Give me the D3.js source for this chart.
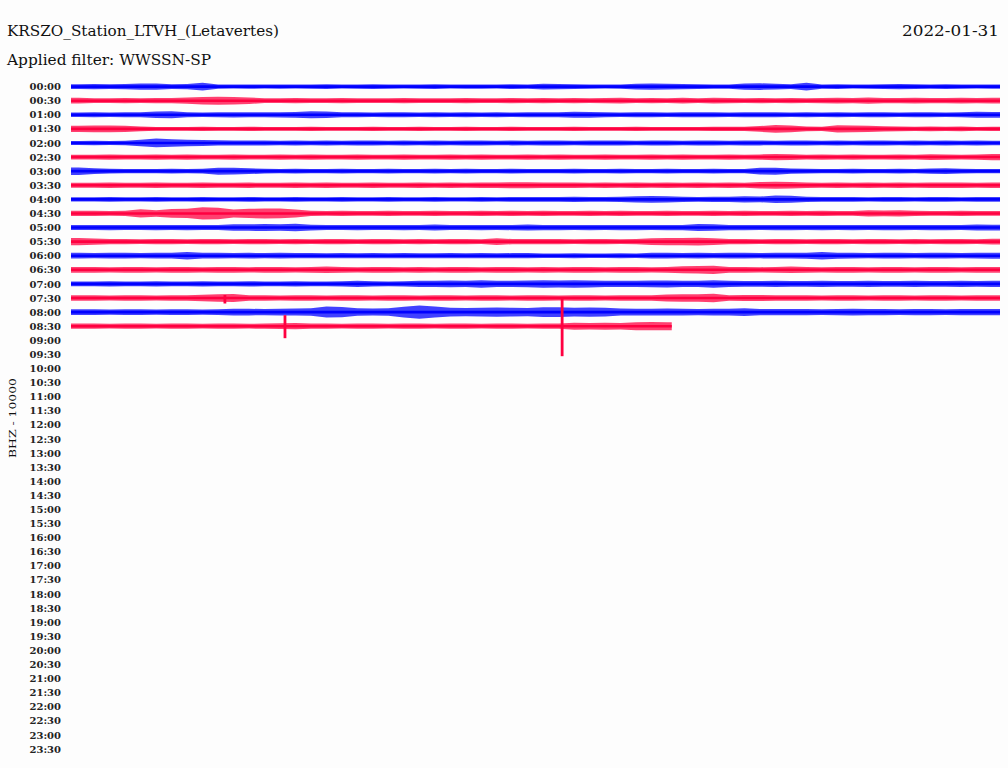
<!DOCTYPE html>
<html>
<head>
<meta charset="utf-8">
<script src="https://cdn.jsdelivr.net/npm/d3@7"></script>
<style>
  body { margin: 0; background: #fdfdfd; }
  svg { display: block; }
</style>
</head>
<body>
<div id="chart"></div>
<script>
// helicorder rows, one every 30 minutes
const hourLabels = [
  "00:00","00:30","01:00","01:30","02:00","02:30","03:00","03:30","04:00","04:30",
  "05:00","05:30","06:00","06:30","07:00","07:30","08:00","08:30","09:00","09:30",
  "10:00","10:30","11:00","11:30","12:00","12:30","13:00","13:30","14:00","14:30",
  "15:00","15:30","16:00","16:30","17:00","17:30","18:00","18:30","19:00","19:30",
  "20:00","20:30","21:00","21:30","22:00","22:30","23:00","23:30"
];

// minutes of data recorded in each row (only rows up to 08:30 have data)
const rowEndMinutes = [30,30,30,30,30,30,30,30,30,30,30,30,30,30,30,30,30,19.4];

// envelope half-amplitude of each row, one value every 30 s
const envelopes = [
  [2.2,2.4,2.2,2.4,2.8,2.8,2.2,2.4,3.6,2.0,1.8,2.0,1.8,2.0,1.8,2.0,2.2,1.8,2.0,2.2,2.0,1.8,2.0,2.2,1.8,2.0,2.0,1.8,2.2,2.0,2.6,2.4,2.2,2.0,1.8,2.0,2.6,2.8,2.6,2.4,2.2,2.0,2.0,2.8,3.0,2.6,2.2,3.6,2.0,2.2,1.8,2.0,2.2,2.4,2.2,2.0,2.2,2.0,1.8,2.0],
  [2.6,2.2,2.2,2.4,2.2,2.4,2.4,2.8,3.4,3.6,3.4,3.0,2.2,2.2,2.4,2.2,2.2,2.4,2.2,2.2,2.2,2.4,2.2,2.2,2.2,2.4,2.2,2.2,2.4,2.2,2.4,2.2,2.4,2.2,2.4,2.6,2.2,2.4,2.2,2.6,2.2,2.6,2.4,2.2,2.4,2.2,2.4,2.2,2.4,2.6,2.4,2.8,2.4,2.4,2.6,2.4,2.4,2.6,2.4,2.6],
  [2.0,2.2,2.0,2.2,2.2,3.0,3.2,2.2,2.0,2.2,2.4,2.2,2.2,2.4,2.6,3.2,3.0,2.2,2.2,2.0,2.2,2.2,2.0,2.2,2.0,2.2,2.0,2.2,2.0,2.2,2.2,2.2,2.8,2.6,2.2,2.0,2.2,2.2,2.0,2.2,2.2,2.2,2.0,2.2,2.2,2.2,2.0,2.2,2.0,2.2,2.0,2.2,2.2,2.0,2.2,2.2,2.0,2.2,2.8,2.6],
  [2.8,3.0,3.0,2.8,2.2,1.8,1.8,1.8,2.0,1.8,1.8,2.0,1.8,1.8,1.8,2.0,1.8,1.8,1.8,2.0,1.8,1.8,2.0,1.8,1.8,2.0,1.8,1.8,2.0,1.8,1.8,1.8,2.0,1.8,1.8,1.8,2.0,1.8,1.8,1.8,1.8,2.0,2.0,2.0,2.6,3.6,3.0,2.2,2.0,3.2,3.0,2.8,2.4,2.2,2.0,2.2,2.0,2.2,1.8,2.0],
  [1.8,2.0,1.8,2.0,3.0,4.0,3.4,3.0,2.8,2.4,2.2,2.2,2.2,2.0,2.2,2.0,2.2,2.0,2.2,2.2,2.0,2.2,2.0,2.2,2.0,2.2,2.2,2.0,2.2,2.0,2.2,2.2,2.0,2.2,2.2,2.2,2.0,2.2,2.2,2.0,2.2,2.2,2.0,2.2,2.2,2.0,2.2,2.2,2.0,2.2,2.0,2.2,2.2,2.0,2.2,2.0,2.2,2.0,2.2,2.0],
  [2.2,2.2,2.4,2.2,2.2,2.4,2.2,2.4,2.2,2.2,2.4,2.2,2.2,2.4,2.2,2.4,2.2,2.2,2.4,2.2,2.2,2.4,2.2,2.2,2.4,2.2,2.4,2.2,2.2,2.4,2.2,2.4,2.2,2.2,2.4,2.2,2.2,2.4,2.2,2.4,2.2,2.2,2.4,2.2,2.4,2.8,2.6,2.2,2.4,2.2,2.4,2.2,2.2,2.4,2.2,2.6,2.4,2.2,2.4,2.8],
  [3.4,2.6,2.2,2.0,2.0,2.0,2.2,2.0,2.2,3.2,3.0,2.6,2.2,2.0,2.2,2.0,2.0,2.2,2.0,2.0,2.2,2.0,2.0,2.2,2.0,2.2,2.0,2.0,2.2,2.0,2.0,2.0,2.2,2.0,2.0,2.2,2.0,2.0,2.2,2.0,2.0,2.2,2.0,2.0,3.0,3.2,2.4,2.2,2.0,2.0,2.2,2.0,2.0,2.2,2.0,2.4,2.6,2.2,2.0,2.0],
  [2.2,2.2,2.4,2.2,2.2,2.4,2.2,2.2,2.4,2.2,2.2,2.4,2.2,2.2,2.4,2.2,2.4,2.2,2.2,2.4,2.2,2.2,2.4,2.2,2.4,2.2,2.4,2.6,2.8,2.8,2.6,2.4,2.4,2.2,2.4,2.2,2.4,2.2,2.4,2.2,2.4,2.2,2.4,2.2,3.0,3.2,3.0,2.4,2.2,2.4,2.2,2.4,2.2,2.4,2.2,2.6,2.6,2.4,2.2,2.4],
  [2.0,2.0,2.2,2.0,2.0,2.2,2.0,2.0,2.2,2.0,2.0,2.2,2.0,2.0,2.2,2.0,2.0,2.2,2.0,2.0,2.2,2.0,2.0,2.2,2.0,2.0,2.2,2.0,2.2,2.2,2.2,2.2,2.4,2.2,2.2,2.4,2.8,3.0,2.8,2.4,2.2,2.4,2.4,2.8,2.6,3.4,3.2,2.4,2.2,2.2,2.2,2.0,2.2,2.2,2.0,2.2,2.2,2.0,2.2,2.2],
  [2.4,2.4,2.2,2.4,3.8,3.0,4.0,4.2,5.6,5.2,3.6,4.2,4.6,4.4,3.6,2.4,2.2,2.4,2.2,2.2,2.4,2.2,2.2,2.4,2.2,2.2,2.4,2.2,2.4,2.2,2.4,2.2,2.2,2.4,2.2,2.4,2.2,2.2,2.4,2.2,2.2,2.4,2.2,2.4,2.2,2.2,2.4,2.2,2.4,2.2,2.2,2.8,2.6,2.8,2.4,2.2,2.2,2.4,2.2,2.2],
  [2.2,2.2,2.4,2.2,2.2,2.4,2.2,2.4,2.2,2.2,3.0,3.0,3.2,3.0,3.4,2.6,2.2,2.2,2.4,2.2,2.2,2.4,2.2,2.8,2.2,2.2,2.4,2.2,2.4,2.8,2.4,2.4,2.2,2.4,2.2,2.4,2.4,2.2,2.4,2.4,3.2,3.0,2.4,2.4,2.2,2.4,2.4,2.2,2.4,2.2,2.4,2.2,2.4,2.4,2.2,2.4,2.4,2.2,2.8,2.6],
  [3.2,2.8,2.4,2.4,2.2,2.4,2.4,2.2,2.4,2.4,2.2,2.4,2.4,2.2,2.4,2.2,2.4,2.4,2.2,2.4,2.4,2.2,2.4,2.2,2.4,2.4,2.2,3.0,2.4,2.4,2.4,2.4,2.2,2.4,2.4,2.2,2.4,3.0,3.2,3.2,3.6,3.0,2.4,2.4,2.2,2.4,2.4,2.2,2.4,2.4,2.2,2.4,2.4,2.2,2.4,2.2,2.4,2.4,2.2,2.6],
  [2.6,2.4,2.6,2.6,2.4,2.6,2.6,3.4,2.6,2.6,2.4,2.6,2.4,2.6,2.4,2.4,2.2,2.4,2.2,2.4,2.2,2.4,2.2,2.2,2.4,2.2,2.4,2.2,2.4,2.4,2.0,2.0,2.2,2.0,2.0,2.2,2.0,2.6,2.6,2.4,2.6,2.4,2.6,2.6,2.4,2.6,2.6,2.8,3.4,2.8,2.6,2.4,2.6,2.6,2.4,2.6,2.6,2.4,2.6,2.8],
  [2.6,2.6,2.4,2.6,2.6,2.4,2.6,2.6,2.4,2.6,2.6,2.4,2.6,2.6,2.4,2.6,3.0,2.6,2.4,2.6,2.6,2.4,2.6,2.4,2.6,2.6,2.4,2.6,2.6,2.4,2.6,2.4,2.6,2.6,2.4,2.6,2.6,2.4,2.6,3.2,3.4,3.8,2.6,2.6,2.4,2.6,3.0,2.6,2.4,2.6,2.6,2.4,2.6,2.6,2.4,2.6,2.6,2.4,2.6,2.6],
  [2.2,2.2,2.4,2.2,2.2,2.4,2.2,2.2,2.4,2.2,2.2,2.4,2.2,2.2,2.4,2.2,2.2,2.4,2.8,2.4,2.2,2.4,2.8,2.8,3.0,2.8,3.4,2.8,2.8,3.0,3.4,3.2,3.4,3.2,2.8,2.8,2.8,3.0,3.2,2.8,2.8,3.4,2.8,2.6,2.6,2.8,2.6,2.6,2.8,2.6,2.6,2.8,2.6,2.6,2.8,2.6,2.6,2.8,2.6,2.8],
  [2.4,2.4,2.2,2.4,2.4,2.2,2.4,2.4,3.0,3.4,3.6,2.4,2.4,2.2,2.4,2.4,2.2,2.4,2.4,2.2,2.4,2.4,2.2,2.4,2.4,2.2,2.4,2.4,2.2,2.4,2.4,2.2,2.4,2.4,2.2,2.4,2.4,2.6,3.2,3.4,3.4,3.8,2.6,2.8,2.8,2.6,2.4,2.4,2.2,2.4,2.4,2.2,2.4,2.4,2.2,2.4,2.4,2.2,2.4,2.4],
  [2.6,2.6,2.4,2.6,2.6,2.4,2.6,2.6,2.4,2.6,3.0,3.0,2.8,3.0,3.2,3.4,5.0,4.6,3.4,3.2,3.4,4.8,6.0,5.0,4.0,3.8,4.0,4.2,4.0,3.8,4.4,4.4,4.0,4.2,4.0,3.2,3.0,3.0,3.2,3.0,2.8,3.0,3.0,3.6,2.8,2.8,2.8,2.8,2.6,2.8,3.0,2.8,2.8,2.6,2.8,2.8,2.6,2.8,2.8,2.8],
  [2.4,2.4,2.2,2.4,2.4,2.2,2.4,2.4,2.2,2.4,2.4,2.2,2.4,2.6,2.8,2.4,2.4,2.2,2.4,2.4,2.2,2.4,2.4,2.2,2.4,2.4,2.2,2.4,2.4,2.2,2.4,2.4,3.2,3.0,3.2,3.0,3.6,3.8,3.6]
];

// isolated spikes: row index, minute in the row, swing up / down
const spikeRows = [15, 17, 17];
const spikeMinutes = [4.97, 6.91, 15.86];
const spikeUp = [3, 11, 29];
const spikeDown = [5.5, 12, 30];

const traceColors = ["#0000ff", "#ff0040"];
const sampleStep = 0.5; // minutes

const width = 1008;
const height = 768;

const svg = d3
  .select("#chart")
  .append("svg")
  .attr("width", width)
  .attr("height", height);

// headings
svg
  .append("text")
  .attr("x", 7)
  .attr("y", 36)
  .attr("textLength", 272)
  .attr("lengthAdjust", "spacingAndGlyphs")
  .style("font-family", "DejaVu Serif")
  .style("font-size", "14px")
  .attr("fill", "#111")
  .text("KRSZO_Station_LTVH_(Letavertes)");

svg
  .append("text")
  .attr("x", 7)
  .attr("y", 65)
  .attr("textLength", 204)
  .attr("lengthAdjust", "spacingAndGlyphs")
  .style("font-family", "DejaVu Serif")
  .style("font-size", "14px")
  .attr("fill", "#111")
  .text("Applied filter: WWSSN-SP");

svg
  .append("text")
  .attr("x", 999)
  .attr("y", 36)
  .attr("text-anchor", "end")
  .attr("textLength", 97)
  .attr("lengthAdjust", "spacingAndGlyphs")
  .style("font-family", "DejaVu Serif")
  .style("font-size", "14px")
  .attr("fill", "#111")
  .text("2022-01-31");

svg
  .append("text")
  .attr("transform", "translate(16,418) rotate(-90)")
  .attr("text-anchor", "middle")
  .attr("textLength", 80)
  .attr("lengthAdjust", "spacingAndGlyphs")
  .style("font-family", "DejaVu Serif")
  .style("font-size", "10px")
  .attr("fill", "#111")
  .text("BHZ - 10000");

// scales
let x = d3.scaleLinear().domain([0, 30]).range([71, 1000]);
let y = d3.scalePoint().domain(hourLabels).range([86.6, 749]);
let amp = d3.scaleLinear().domain([0, 10]).range([0, 11]);

// hour labels
svg
  .append("g")
  .selectAll("text")
  .data(hourLabels)
  .enter()
  .append("text")
  .attr("x", 61)
  .attr("y", (d) => y(d) + 3.6)
  .attr("text-anchor", "end")
  .style("font-family", "DejaVu Serif")
  .style("font-size", "10px")
  .style("font-weight", "bold")
  .attr("fill", "#222")
  .text((d) => d);

// traces
const rows = envelopes.map((vals, r) => {
  const end = rowEndMinutes[r];
  let pts = vals.map((v, i) => ({ m: Math.min(i * sampleStep + sampleStep / 2, end), v: v }));
  pts.unshift({ m: 0, v: vals[0] });
  pts.push({ m: end, v: vals[vals.length - 1] });
  return { label: hourLabels[r], end: end, pts: pts, color: traceColors[r % 2] };
});

let traces = svg
  .append("g")
  .selectAll("g")
  .data(rows)
  .enter()
  .append("g");

// noise envelope
traces
  .append("path")
  .attr("fill", (d) => d.color)
  .attr("fill-opacity", 0.75)
  .attr("d", (d) =>
    d3
      .area()
      .x((p) => x(p.m))
      .y0((p) => y(d.label) + amp(p.v))
      .y1((p) => y(d.label) - amp(p.v))(d.pts)
  );

// trace line
traces
  .append("line")
  .attr("x1", x(0))
  .attr("x2", (d) => x(d.end))
  .attr("y1", (d) => y(d.label))
  .attr("y2", (d) => y(d.label))
  .attr("stroke", (d) => d.color)
  .attr("stroke-width", 2.6);

// spikes
svg
  .append("g")
  .selectAll("line")
  .data(spikeRows)
  .enter()
  .append("line")
  .attr("x1", (d, i) => x(spikeMinutes[i]))
  .attr("x2", (d, i) => x(spikeMinutes[i]))
  .attr("y1", (d, i) => y(hourLabels[d]) - amp(spikeUp[i]) / 1.1)
  .attr("y2", (d, i) => y(hourLabels[d]) + amp(spikeDown[i]) / 1.1)
  .attr("stroke", (d) => traceColors[d % 2])
  .attr("stroke-width", 2.8);
</script>
</body>
</html>
